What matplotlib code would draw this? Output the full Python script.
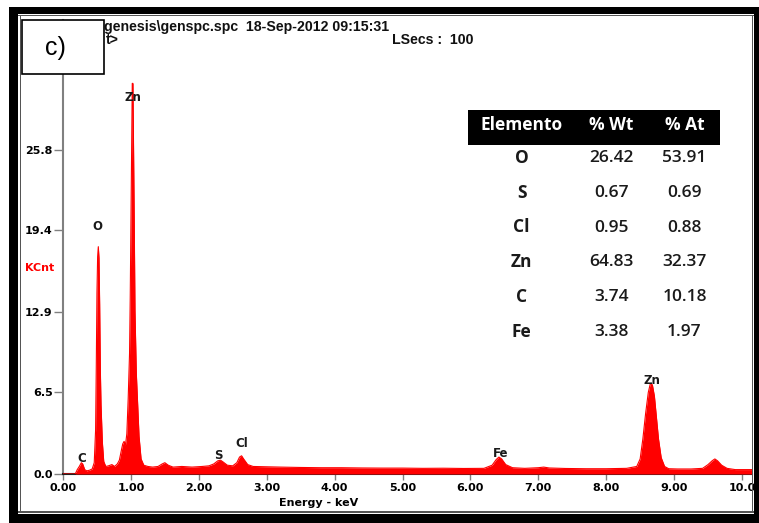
import matplotlib
matplotlib.use("Agg")
import matplotlib.pyplot as plt
from matplotlib.patches import Rectangle

W, H = 759, 523

# EDS spectrum (energy in keV, counts in KCnt)
energy_kev = [
    0.00, 0.18, 0.21, 0.24, 0.27, 0.29, 0.32, 0.35, 0.39, 0.43,
    0.46, 0.48, 0.49, 0.50, 0.51, 0.52, 0.53, 0.54, 0.55, 0.56,
    0.58, 0.60, 0.63, 0.67, 0.72, 0.76, 0.80, 0.83, 0.86, 0.88,
    0.90, 0.92, 0.94, 0.96, 0.98, 0.99, 1.00, 1.01, 1.02, 1.03,
    1.04, 1.05, 1.06, 1.08, 1.10, 1.12, 1.15, 1.19, 1.25, 1.32,
    1.40, 1.46, 1.50, 1.55, 1.62, 1.75, 1.90, 2.05, 2.15, 2.22,
    2.28, 2.32, 2.36, 2.42, 2.50, 2.56, 2.60, 2.63, 2.66, 2.72,
    2.80, 2.95, 3.20, 3.50, 3.80, 4.10, 4.40, 4.70, 5.00, 5.30,
    5.60, 5.90, 6.20, 6.32, 6.38, 6.42, 6.46, 6.52, 6.62, 6.80,
    7.00, 7.08, 7.16, 7.40, 7.70, 8.00, 8.30, 8.45, 8.50, 8.54,
    8.58, 8.62, 8.65, 8.68, 8.71, 8.74, 8.77, 8.81, 8.86, 8.92,
    9.05, 9.25, 9.42, 9.50, 9.56, 9.60, 9.64, 9.70, 9.78, 9.90,
    10.15,
]
counts_kcnt = [
    0.00, 0.00, 0.35, 0.60, 0.90, 0.80, 0.35, 0.25, 0.30, 0.40,
    0.90, 3.50, 8.50, 14.4, 17.3, 18.1, 17.2, 13.5, 8.30, 5.50,
    2.50, 1.00, 0.60, 0.65, 0.75, 0.60, 0.80, 1.10, 1.90, 2.40,
    2.60, 2.30, 3.20, 6.00, 9.60, 14.0, 19.7, 25.4, 31.1, 31.1,
    25.4, 19.7, 13.0, 8.00, 5.50, 3.00, 1.20, 0.70, 0.60, 0.55,
    0.60, 0.80, 0.90, 0.70, 0.55, 0.60, 0.55, 0.60, 0.65, 0.80,
    1.05, 1.10, 0.95, 0.70, 0.65, 0.90, 1.35, 1.45, 1.20, 0.75,
    0.60, 0.58, 0.55, 0.52, 0.50, 0.50, 0.48, 0.47, 0.47, 0.45,
    0.46, 0.44, 0.45, 0.70, 1.15, 1.35, 1.20, 0.75, 0.50, 0.45,
    0.50, 0.55, 0.48, 0.44, 0.42, 0.42, 0.45, 0.60, 1.20, 2.80,
    4.80, 6.50, 7.20, 7.10, 6.20, 4.50, 2.80, 1.30, 0.60, 0.42,
    0.40, 0.40, 0.45, 0.75, 1.05, 1.20, 1.05, 0.70, 0.45, 0.35,
    0.35,
]

x_ticks = [0, 1, 2, 3, 4, 5, 6, 7, 8, 9, 10]
x_tick_labels = ["0.00", "1.00", "2.00", "3.00", "4.00", "5.00",
                 "6.00", "7.00", "8.00", "9.00", "10.0"]
y_ticks = [0.0, 6.5, 12.9, 19.4, 25.8]
y_tick_labels = ["0.0", "6.5", "12.9", "19.4", "25.8"]

peak_labels = ["C", "O", "Zn", "S", "Cl", "Fe", "Zn"]
peak_label_kev = [0.27, 0.51, 1.035, 2.295, 2.63, 6.45, 8.67]
peak_label_kcnt = [1.2, 19.7, 30.0, 1.5, 2.4, 1.6, 7.45]

table_header = ["Elemento", "% Wt", "% At"]
elements = ["O", "S", "Cl", "Zn", "C", "Fe"]
wt_percent = ["26.42", "0.67", "0.95", "64.83", "3.74", "3.38"]
at_percent = ["53.91", "0.69", "0.88", "32.37", "10.18", "1.97"]


def fx(x):
    return x / W


def fy(y):
    return 1 - y / H


def px_rect(x0, y0, x1, y1, **kw):
    return Rectangle((fx(x0), fy(y1)), (x1 - x0) / W, (y1 - y0) / H,
                     transform=fig.transFigure, **kw)


fig = plt.figure(figsize=(W / 100, H / 100), dpi=100, facecolor="white")

ax = fig.add_axes([fx(63), fy(474), (752 - 63) / W, (474 - 20) / H])
ax.set_xlim(0, (752 - 63) / 67.9)
ax.set_ylim(0, (474 - 20) / 12.56)
ax.patch.set_alpha(0)

ax.fill_between(energy_kev, counts_kcnt, 0, color="#ff0000", lw=0, zorder=3)
ax.plot(energy_kev, counts_kcnt, color="#ff0000", lw=0.8, zorder=3)

for spine in ["top", "right"]:
    ax.spines[spine].set_visible(False)
ax.spines["left"].set_color("#808080")
ax.spines["left"].set_linewidth(1.5)
ax.spines["bottom"].set_color("#202020")
ax.spines["bottom"].set_linewidth(1.5)

ax.set_xticks(x_ticks)
ax.set_xticklabels(x_tick_labels)
ax.set_yticks(y_ticks)
ax.set_yticklabels(y_tick_labels)
ax.tick_params(axis="x", direction="out", length=4, width=1, color="#808080",
               pad=2.5, labelsize=8)
ax.tick_params(axis="y", direction="out", length=6.5, width=1, color="#808080",
               pad=1, labelsize=8)
for lab in ax.get_xticklabels() + ax.get_yticklabels():
    lab.set_fontweight("bold")
    lab.set_family("DejaVu Sans")

for name, e, k in zip(peak_labels, peak_label_kev, peak_label_kcnt):
    ax.text(e, k, name, ha="center", va="center", fontsize=8.5,
            fontweight="bold", color="#1a1a1a", zorder=4)

fig.text(fx(319), fy(502.5), "Energy - keV", ha="center", va="center",
         fontsize=8, fontweight="bold")
fig.text(fx(40), fy(268), "KCnt", ha="center", va="center", fontsize=8,
         fontweight="bold", color="#ff0000")

# header lines of the spectrum file
hdr = dict(family="Liberation Sans", fontweight="bold", fontsize=10.2,
           color="#111111", va="baseline")
fig.text(fx(104), fy(31.5), "genesis\\genspc.spc  18-Sep-2012 09:15:31", **hdr)
fig.text(fx(106), fy(44), "t>", **hdr)
fig.text(fx(392), fy(43.5), "LSecs :  100", **hdr)

# composition table
fig.add_artist(px_rect(468, 110, 720, 145, facecolor="black",
                       edgecolor="none", zorder=5))
col_x = [521.7, 611.5, 684.5]
for cx, head in zip(col_x, table_header):
    fig.text(fx(cx), fy(125), head, ha="center", va="center", color="white",
             family="Open Sans", fontweight="bold", fontsize=12.5, zorder=6)
row_y = [158, 193, 227.5, 262, 297, 332]
for ry, el, wt, at in zip(row_y, elements, wt_percent, at_percent):
    fig.text(fx(col_x[0]), fy(ry), el, ha="center", va="center",
             family="Open Sans", fontweight="bold", fontsize=12.5,
             color="#1a1a1a")
    fig.text(fx(col_x[1]), fy(ry), wt, ha="center", va="center",
             family="Open Sans", fontweight="semibold", fontsize=12.5,
             color="#1a1a1a")
    fig.text(fx(col_x[2]), fy(ry), at, ha="center", va="center",
             family="Open Sans", fontweight="semibold", fontsize=12.5,
             color="#1a1a1a")

# outer frame
black = dict(facecolor="black", edgecolor="none", zorder=8)
fig.add_artist(px_rect(9, 7, 759, 14, **black))
fig.add_artist(px_rect(9, 7, 18, 523, **black))
fig.add_artist(px_rect(9, 514, 759, 523, **black))
fig.add_artist(px_rect(754, 7, 759, 523, **black))
thin = dict(facecolor="#555555", edgecolor="none", zorder=8)
fig.add_artist(px_rect(18, 15, 754, 16.5, **thin))
fig.add_artist(px_rect(18, 511, 754, 512.5, **thin))
fig.add_artist(px_rect(19.5, 16, 21, 511, **thin))
fig.add_artist(px_rect(751.5, 16, 753, 511, **thin))

# panel label box
fig.add_artist(px_rect(22, 20, 104, 74, facecolor="white", edgecolor="black",
                       linewidth=1.2, zorder=9))
fig.text(fx(55), fy(48), "c)", ha="center", va="center", fontsize=18,
         family="Liberation Sans", zorder=10)

fig.savefig("out.png", dpi=100)
